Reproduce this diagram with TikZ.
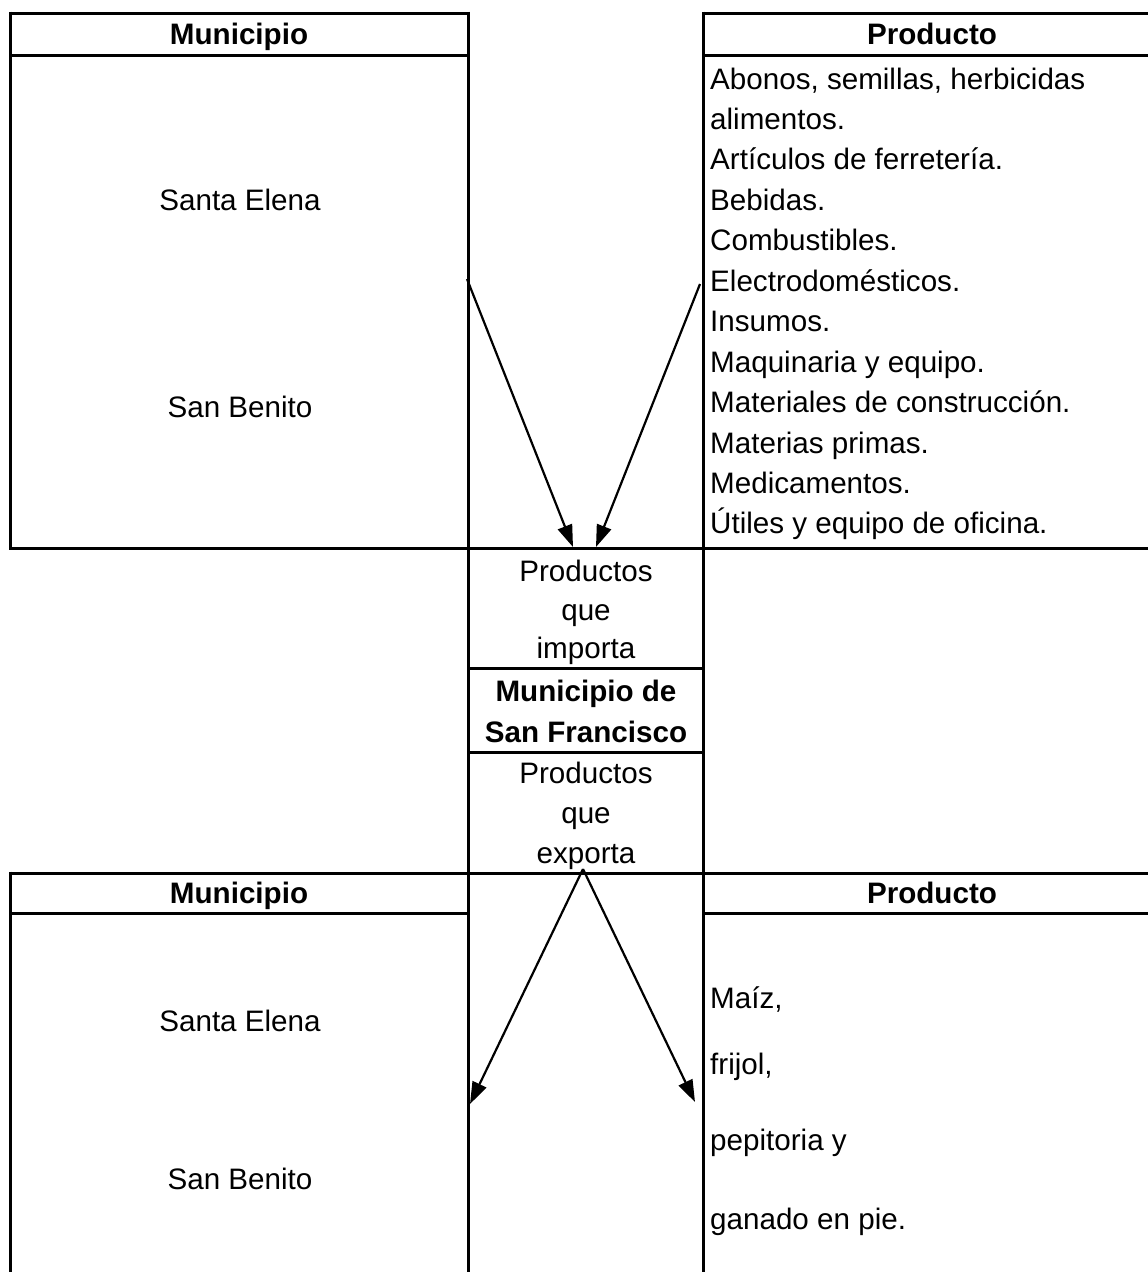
\documentclass[tikz,border=0pt]{standalone}
\usepackage{fontspec}
\setmainfont{Liberation Sans}
\usetikzlibrary{arrows.meta}
\begin{document}
\begin{tikzpicture}[x=1pt,y=-1pt,
  grid/.style={line width=3pt},
  txt/.style={inner sep=0pt, font=\fontsize{29.6}{36}\selectfont},
  hdr/.style={inner sep=0pt, font=\fontsize{29.6}{36}\selectfont\bfseries},
  arr/.style={line width=2.2pt, -{Triangle[length=22pt,width=15pt]}}]
\useasboundingbox (0,0) rectangle (1148,1272);
% grid lines
\draw[grid] (10,13) -- (468,13);
\draw[grid] (703,13) -- (1148,13);
\draw[grid] (10,55) -- (468,55);
\draw[grid] (703,55) -- (1148,55);
\draw[grid] (10,548) -- (1148,548);
\draw[grid] (468,668) -- (703,668);
\draw[grid] (468,752) -- (703,752);
\draw[grid] (10,873) -- (1148,873);
\draw[grid] (10,913) -- (468,913);
\draw[grid] (703,913) -- (1148,913);
\draw[grid] (10,11.5) -- (10,549.5);
\draw[grid] (10,871.5) -- (10,1272);
\draw[grid] (468,11.5) -- (468,1272);
\draw[grid] (703,11.5) -- (703,1272);
% headers
\node[hdr,anchor=base] (hm1) at (239,44) {Municipio};
\node[hdr,anchor=base] (hp1) at (932,44) {Producto};
\node[hdr,anchor=base] (hm2) at (239,903) {Municipio};
\node[hdr,anchor=base] (hp2) at (932,903) {Producto};
% top left
\node[txt,anchor=base] (se1) at (240,210) {Santa Elena};
\node[txt,anchor=base] (sb1) at (240,417) {San Benito};
% top right list
\foreach \t [count=\i from 0] in {Abonos{,} semillas{,} herbicidas, alimentos., Artículos de ferretería., Bebidas., Combustibles., Electrodomésticos., Insumos., Maquinaria y equipo., Materiales de construcción., Materias primas., Medicamentos., Útiles y equipo de oficina.}
  \node[txt,anchor=base west] (p\i) at (710,{89+40.45*\i}) {\t};
% centre
\node[txt,anchor=base] (ci1) at (586,581) {Productos};
\node[txt,anchor=base] (ci2) at (586,620) {que};
\node[txt,anchor=base] (ci3) at (586,658) {importa};
\node[hdr,anchor=base] (cm1) at (586,701) {Municipio de};
\node[hdr,anchor=base] (cm2) at (586,742) {San Francisco};
\node[txt,anchor=base] (ce1) at (586,783) {Productos};
\node[txt,anchor=base] (ce2) at (586,823) {que};
\node[txt,anchor=base] (ce3) at (586,863) {exporta};
% bottom left
\node[txt,anchor=base] (se2) at (240,1031) {Santa Elena};
\node[txt,anchor=base] (sb2) at (240,1189) {San Benito};
% bottom right
\node[txt,anchor=base west] (q1) at (710,1008) {Maíz,};
\node[txt,anchor=base west] (q2) at (710,1074) {frijol,};
\node[txt,anchor=base west] (q3) at (710,1150) {pepitoria y};
\node[txt,anchor=base west] (q4) at (710,1229) {ganado en pie.};
% arrow coordinates
\coordinate (a1s) at (467,279);
\coordinate (a1e) at (573,547);
\coordinate (a2s) at (700,284);
\coordinate (a2e) at (596,547);
\coordinate (apex) at (583,869);
\coordinate (b1e) at (470,1104);
\coordinate (b2e) at (695,1102);
\draw[arr] (a1s) -- (a1e);
\draw[arr] (a2s) -- (a2e);
\draw[arr] (apex) -- (b1e);
\draw[arr] (apex) -- (b2e);
\end{tikzpicture}
\end{document}
